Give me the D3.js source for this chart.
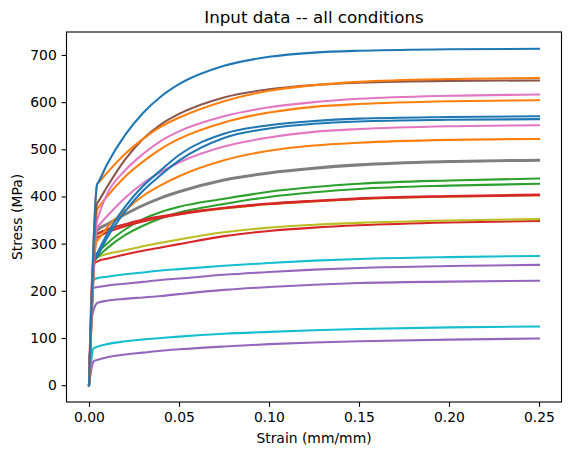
<!DOCTYPE html>
<html><head><meta charset="utf-8">
<script src="https://cdn.jsdelivr.net/npm/d3@7"></script>
<style>
body{margin:0;background:#fff}
svg{display:block}
text{font-family:"DejaVu Sans",sans-serif;fill:#000}
</style>
</head><body>
<svg id="chart" width="571" height="455"></svg>
<script>
// ---------- data ----------
const strainGrid = [0.005, 0.01, 0.02, 0.03, 0.04, 0.05, 0.075, 0.1, 0.125, 0.15, 0.2, 0.25];
const xTicks = [0, 0.05, 0.1, 0.15, 0.2, 0.25];
const yTicks = [0, 100, 200, 300, 400, 500, 600, 700];

const curveIds    = ["purpleU","cyanT","purpleS","purpleR","cyanQ","redP","oliveO","greenL","greenK","oliveM0","redM2","redM","grayJ2","grayJ","orangeI","pinkH","blueG","blueF","orangeE","pinkD","brownC","orangeB","blueA"];
const curveColorKey = ["purple","cyan","purple","purple","cyan","red","olive","green","green","olive","red","red","gray","gray","orange","pink","blue","blue","orange","pink","brown","orange","blue"];

// optional early kink (proportional limit) before yield
const kinkStrain  = [null,null,0.0018,null,null,null,null,null,null,null,null,null,null,null,null,null,null,null,null,null,null,null,null];
const kinkStress  = [null,null,148,null,null,null,null,null,null,null,null,null,null,null,null,null,null,null,null,null,null,null,null];

const yieldStrain = [0.0025,0.0025,0.0045,0.0026,0.0026,0.0022,0.0035,0.003,0.003,0.004,0.004,0.004,0.0045,0.0045,0.004,0.004,0.003,0.003,0.0045,0.0045,0.0045,0.0045,0.0045];
const yieldStress = [50,78,174,206,224,255,268,262,268,318.5,312,320,327,330,303,330,262,268,372,350,385,426,426];

// stress at strainGrid for each curve (MPa)
const stressPurpleU = [54,59,65,69,73,76,82,87,90.5,93,96.5,99];
const stressCyanT   = [82,87,93,97,100,103,109,113,116.5,119,122.5,124.5];
const stressPurpleS = [175,179,183,186,189,193,202,208,213,216.5,219.5,221.5];
const stressPurpleR = [208,211,215,219,223,226,234,240,245,248.5,252.5,255];
const stressCyanQ   = [227,230,235,239,243,246,253,259,264,267.5,271.5,274];
const stressRedP    = [263,268,277,285,292,299,316,327,334,339,345,348];
const stressOliveO  = [272,278,286,294.5,302,309,324,334,340,344,349,352];
const stressGreenL  = [272,290,318,338,354,366,384,399,409,416,423,427];
const stressGreenK  = [280,300,330,352,367,378,395,410,420,427,434,438];
const stressOliveM0 = [320.5,328.5,339.5,349.5,356.5,362.5,374.5,383.5,389.5,394.5,399.5,402.5];
const stressRedM2   = [314,324,337,347,355,362,375,384,390,395,400,402.5];
const stressRedM    = [322,330,341,351,358,364,376,385,391,396,401,404];
const stressGrayJ2  = [329,340,361,380,396,409,434,449,459,466,473,476];
const stressGrayJ   = [332,342,363,382,398,411,436,451,461,468,475,478];
const stressOrangeI = [308,334,370,401,424,443,477,497,508,514,520,522];
const stressPinkH   = [336,358,397,428,452,472,506,525,537,543,549,551];
const stressBlueG   = [276,312,368,412,446,476,524,544,554,559,562.5,564];
const stressBlueF   = [283,320,378,422,456,488,533,551,560,565,568.5,570];
const stressOrangeE = [375,400,442,474,501,522,557,578,590,596,602,604];
const stressPinkD   = [356,405,455,490,518,538,570,589,600,607,613.5,616];
const stressBrownC  = [388,420,478,522,553,575,610,627,636,641,645,646];
const stressOrangeB = [428,450,490,522,548,567,602,624,636,643,649,651];
const stressBlueA   = [429,468,530,577,612,638,677,696,705,709,712,713];

const stressByCurve = [stressPurpleU,stressCyanT,stressPurpleS,stressPurpleR,stressCyanQ,stressRedP,stressOliveO,stressGreenL,stressGreenK,stressOliveM0,stressRedM2,stressRedM,stressGrayJ2,stressGrayJ,stressOrangeI,stressPinkH,stressBlueG,stressBlueF,stressOrangeE,stressPinkD,stressBrownC,stressOrangeB,stressBlueA];

// ---------- style ----------
const palette = {blue:"#1f77b4",orange:"#ff7f0e",green:"#2ca02c",red:"#d62728",purple:"#9467bd",
                 brown:"#8c564b",pink:"#e377c2",gray:"#7f7f7f",olive:"#bcbd22",cyan:"#17becf"};

const W = 571, H = 455;
const L = 66.5, R = 561.5, T = 32, B = 402;
const FS = 13.9;

const svg = d3.select("#chart");

const allStress = stressByCurve.flat().concat(yieldStress);
const yMax = d3.max(allStress), yMin = 0;
const yPad = (yMax - yMin) * 0.05;
const xMin = 0, xMax = 0.25, xPad = (xMax - xMin) * 0.05;

const x = d3.scaleLinear().domain([xMin - xPad, xMax + xPad]).range([L, R]);
const y = d3.scaleLinear().domain([yMin - yPad, yMax + yPad]).range([B, T]);

// build series
const series = curveIds.map((id, i) => {
  const pts = [[0, 0]];
  if (kinkStrain[i] !== null) pts.push([kinkStrain[i], kinkStress[i]]);
  pts.push([yieldStrain[i], yieldStress[i]]);
  strainGrid.forEach((s, j) => { if (s > yieldStrain[i]) pts.push([s, stressByCurve[i][j]]); });
  return {id, color: palette[curveColorKey[i]], pts};
});

const line = d3.line().x(d => x(d[0])).y(d => y(d[1])).curve(d3.curveMonotoneX);

svg.append("g").selectAll("path").data(series).join("path")
  .attr("d", d => line(d.pts))
  .attr("fill", "none")
  .attr("stroke", d => d.color)
  .attr("stroke-width", 2.08)
  .attr("stroke-linejoin", "round")
  .attr("stroke-linecap", "square");

// axes
const tickLen = 4.86;
const xAxis = d3.axisBottom(x).tickValues(xTicks).tickFormat(d3.format(".2f"))
  .tickSize(tickLen).tickSizeOuter(0).tickPadding(5.5);
const yAxis = d3.axisLeft(y).tickValues(yTicks).tickFormat(d3.format("d"))
  .tickSize(tickLen).tickSizeOuter(0).tickPadding(4.86);

const gx = svg.append("g").attr("transform", `translate(0,${B})`).call(xAxis);
const gy = svg.append("g").attr("transform", `translate(${L},0)`).call(yAxis);
[gx, gy].forEach(g => {
  g.select(".domain").remove();
  g.selectAll(".tick line").attr("stroke", "#000").attr("stroke-width", 1.1);
  g.selectAll(".tick text").attr("font-size", FS).attr("font-family", "DejaVu Sans").attr("fill", "#000");
});

// frame
svg.append("rect").attr("x", L).attr("y", T).attr("width", R - L).attr("height", B - T)
  .attr("fill", "none").attr("stroke", "#000").attr("stroke-width", 1.1);

// labels
svg.append("text").attr("x", (L + R) / 2).attr("y", 23).attr("text-anchor", "middle")
  .attr("font-size", 16.7).text("Input data -- all conditions");
svg.append("text").attr("x", (L + R) / 2).attr("y", 443).attr("text-anchor", "middle")
  .attr("font-size", FS).text("Strain (mm/mm)");
svg.append("text").attr("transform", `translate(22,${(T + B) / 2}) rotate(-90)`).attr("text-anchor", "middle")
  .attr("font-size", FS).text("Stress (MPa)");
</script>
</body></html>
